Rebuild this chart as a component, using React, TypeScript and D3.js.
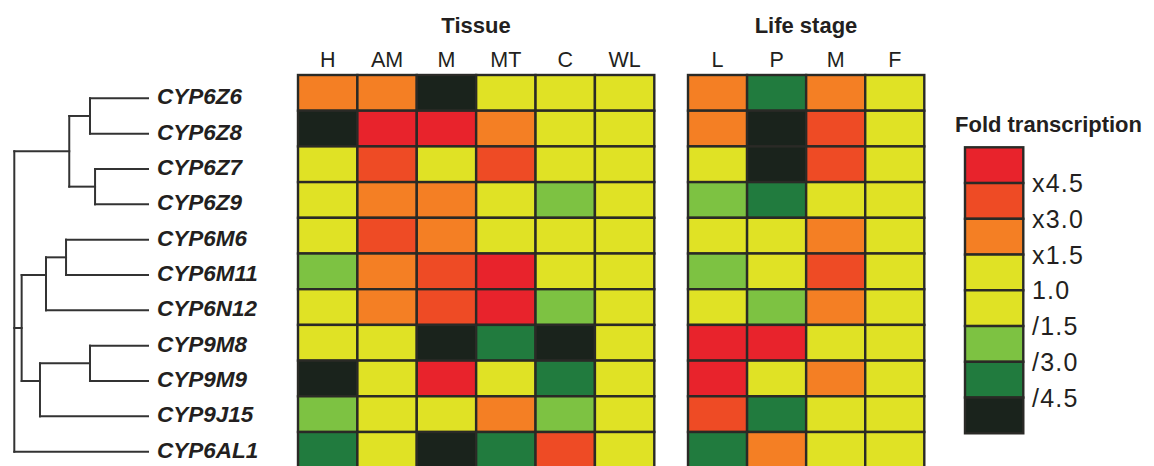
import * as d3 from "d3";

// gene order, top to bottom
const genes = [
  "CYP6Z6",
  "CYP6Z8",
  "CYP6Z7",
  "CYP6Z9",
  "CYP6M6",
  "CYP6M11",
  "CYP6N12",
  "CYP9M8",
  "CYP9M9",
  "CYP9J15",
  "CYP6AL1",
];

const tissueCols = ["H", "AM", "M", "MT", "C", "WL"];
const stageCols = ["L", "P", "M", "F"];

// fold class: 4 = >x4.5, 3 = x3.0, 2 = x1.5, 1 = up to x1.5, -1 = down to /1.5,
// -2 = /3.0, -3 = /4.5, -4 = below /4.5
const tissueLevels = [
  [2, 2, -4, 1, 1, 1],
  [-4, 4, 4, 2, 1, 1],
  [1, 3, 1, 3, 1, 1],
  [1, 2, 2, 1, -2, 1],
  [1, 3, 2, 1, 1, 1],
  [-2, 2, 3, 4, 1, 1],
  [1, 2, 3, 4, -2, 1],
  [1, 1, -4, -3, -4, 1],
  [-4, 1, 4, 1, -3, 1],
  [-2, 1, 1, 2, -2, 1],
  [-3, 1, -4, -3, 3, 1],
];

const stageLevels = [
  [2, -3, 2, 1],
  [2, -4, 3, 1],
  [1, -4, 3, 1],
  [-2, -3, 1, 1],
  [1, 1, 2, 1],
  [-2, 1, 3, 1],
  [1, -2, 2, 1],
  [4, 4, 1, 1],
  [4, 1, 2, 1],
  [3, -3, 1, 1],
  [-3, 2, 1, 1],
];

const legendLevels = [4, 3, 2, 1, -1, -2, -3, -4];
const legendColors = [
  "#e8232c",
  "#ee4b25",
  "#f47f24",
  "#e0e225",
  "#e0e225",
  "#7dc242",
  "#217b3e",
  "#1a231c",
];
const legendLabels = ["x4.5", "x3.0", "x1.5", "1.0", "/1.5", "/3.0", "/4.5"];

// dendrogram, branch heights relative to root (leaves at 0)
interface TreeNode {
  name?: string;
  h: number;
  children?: TreeNode[];
}
const leaf = (name: string): TreeNode => ({ name, h: 0 });
const tree: TreeNode = {
  h: 1,
  children: [
    {
      h: 0.589,
      children: [
        { h: 0.434, children: [leaf("CYP6Z6"), leaf("CYP6Z8")] },
        { h: 0.396, children: [leaf("CYP6Z7"), leaf("CYP6Z9")] },
      ],
    },
    {
      h: 0.945,
      children: [
        {
          h: 0.763,
          children: [
            { h: 0.613, children: [leaf("CYP6M6"), leaf("CYP6M11")] },
            leaf("CYP6N12"),
          ],
        },
        {
          h: 0.808,
          children: [
            { h: 0.434, children: [leaf("CYP9M8"), leaf("CYP9M9")] },
            leaf("CYP9J15"),
          ],
        },
      ],
    },
    leaf("CYP6AL1"),
  ],
};

const FONT = "'Liberation Sans', Arial, Helvetica, sans-serif";
const BORDER = "#2a2a26";

export default function App() {
  const width = 1154;
  const height = 466;

  const rowY = d3
    .scaleBand<string>()
    .domain(genes)
    .range([75, 75 + 35.7 * genes.length]);
  const tissueX = d3.scaleBand<string>().domain(tissueCols).range([298, 654.3]);
  const stageX = d3
    .scaleBand<string>()
    .domain(d3.range(stageCols.length).map(String))
    .range([688, 924.3]);
  const color = d3.scaleOrdinal<number, string>(legendLevels, legendColors);

  // dendrogram scales
  const leafY = d3.scalePoint<string>().domain(genes).range([98.3, 451.7]);
  const treeX = d3.scaleLinear().domain([0, 1]).range([148, 14.3]);

  const root = d3.hierarchy<TreeNode>(tree);
  const nodeY = (n: d3.HierarchyNode<TreeNode>) =>
    d3.mean(n.leaves(), (l) => leafY(l.data.name!)!)!;

  const segments: [number, number, number, number][] = [];
  root.each((n) => {
    const x = treeX(n.data.h);
    const y = nodeY(n);
    if (n.parent) segments.push([treeX(n.parent.data.h), y, x, y]);
    if (n.children) {
      const ys = n.children.map(nodeY);
      segments.push([x, d3.min(ys)!, x, d3.max(ys)!]);
    }
  });

  const legendY = d3
    .scaleBand<number>()
    .domain(legendLevels)
    .range([147.3, 433.3]);

  return (
    <div style={{ position: "absolute", left: 0, top: 0 }}>
      <svg width={width} height={height} style={{ display: "block" }}>
        <rect width={width} height={height} fill="#fff" />

        {/* dendrogram */}
        <g stroke="#333" strokeWidth={2} strokeLinecap="square">
          {segments.map((s, i) => (
            <line key={i} x1={s[0]} y1={s[1]} x2={s[2]} y2={s[3]} />
          ))}
        </g>
        <g
          fontFamily={FONT}
          fontWeight="bold"
          fontStyle="italic"
          fontSize={22.5}
          fill="#231f20"
        >
          {genes.map((g) => (
            <text key={g} x={157} y={leafY(g)! + 6}>
              {g}
            </text>
          ))}
        </g>

        {/* headers */}
        <g fontFamily={FONT} fill="#231f20" textAnchor="middle">
          <text x={476} y={33} fontWeight="bold" fontSize={22}>
            Tissue
          </text>
          <text x={806} y={33} fontWeight="bold" fontSize={22}>
            Life stage
          </text>
          {tissueCols.map((c) => (
            <text
              key={c}
              x={tissueX(c)! + tissueX.bandwidth() / 2}
              y={67}
              fontSize={21.5}
            >
              {c}
            </text>
          ))}
          {stageCols.map((c, i) => (
            <text
              key={i}
              x={stageX(String(i))! + stageX.bandwidth() / 2}
              y={67}
              fontSize={21.5}
            >
              {c}
            </text>
          ))}
        </g>

        {/* heatmap: tissue */}
        <g stroke={BORDER} strokeWidth={2.4}>
          {genes.map((g, r) =>
            tissueCols.map((c, j) => (
              <rect
                key={g + c}
                x={tissueX(c)}
                y={rowY(g)}
                width={tissueX.bandwidth()}
                height={rowY.bandwidth()}
                fill={color(tissueLevels[r][j])}
              />
            ))
          )}
          {genes.map((g, r) =>
            stageCols.map((c, j) => (
              <rect
                key={g + "s" + j}
                x={stageX(String(j))}
                y={rowY(g)}
                width={stageX.bandwidth()}
                height={rowY.bandwidth()}
                fill={color(stageLevels[r][j])}
              />
            ))
          )}
        </g>

        {/* legend */}
        <text
          x={955}
          y={132}
          fontFamily={FONT}
          fontWeight="bold"
          fontSize={22}
          fill="#231f20"
        >
          Fold transcription
        </text>
        <g stroke={BORDER} strokeWidth={2.4}>
          {legendLevels.map((l, i) => (
            <rect
              key={i}
              x={965}
              y={legendY(l)}
              width={58.3}
              height={legendY.bandwidth()}
              fill={legendColors[i]}
            />
          ))}
        </g>
        <g fontFamily={FONT} fontSize={25} fill="#231f20" letterSpacing={1.2}>
          {legendLabels.map((t, i) => (
            <text
              key={t}
              x={1032}
              y={legendY(legendLevels[i + 1])! + 9}
            >
              {t}
            </text>
          ))}
        </g>
      </svg>
    </div>
  );
}
